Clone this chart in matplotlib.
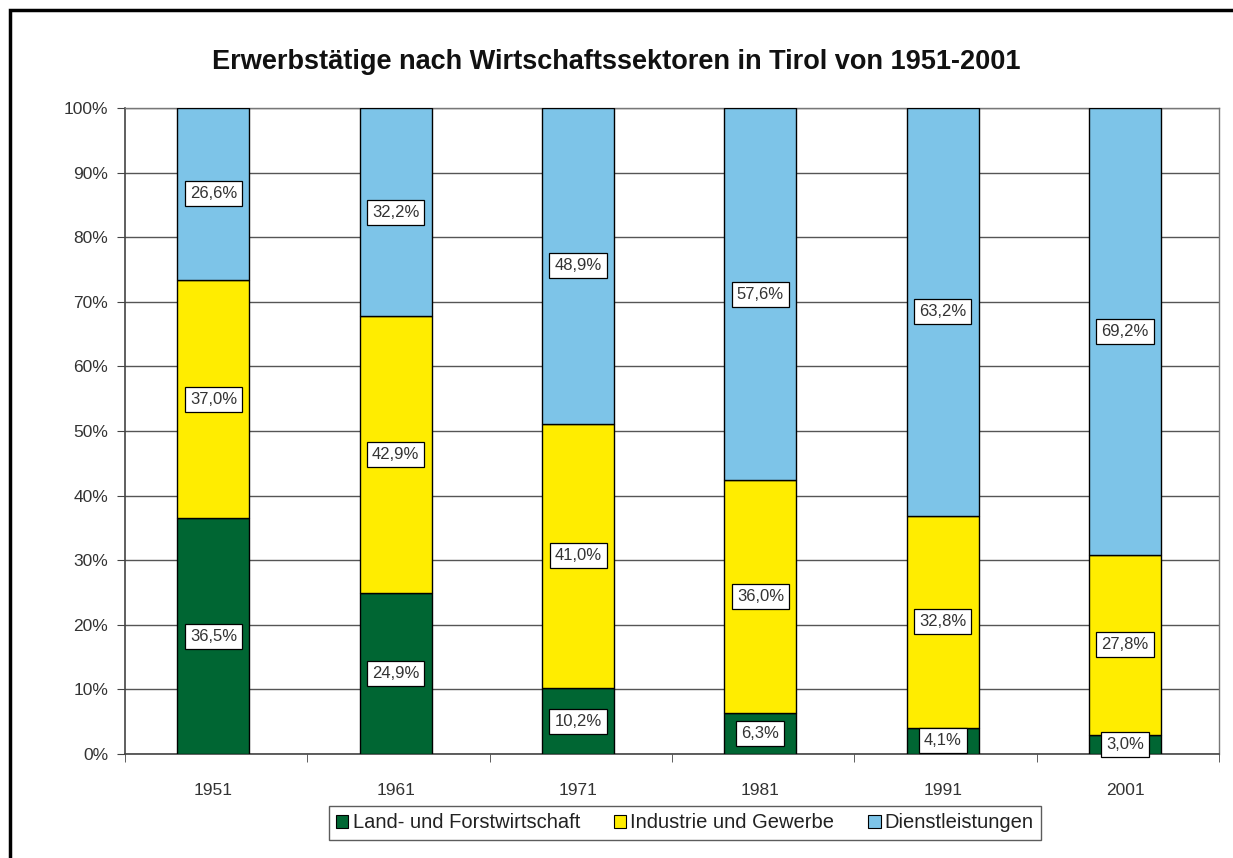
import matplotlib
matplotlib.use("Agg")
import matplotlib.pyplot as plt
from matplotlib.patches import Rectangle
import numpy as np

plt.rcParams['font.family'] = ['Liberation Sans', 'DejaVu Sans']

years = ["1951", "1961", "1971", "1981", "1991", "2001"]
land = [36.5, 24.9, 10.2, 6.3, 4.1, 3.0]
industrie = [37.0, 42.9, 41.0, 36.0, 32.8, 27.8]
dienst = [26.6, 32.2, 48.9, 57.6, 63.2, 69.2]
series_names = ["Land- und Forstwirtschaft", "Industrie und Gewerbe", "Dienstleistungen"]
colors = ["#006633", "#FFED00", "#7DC4E8"]
yticklabels = ["0%", "10%", "20%", "30%", "40%", "50%", "60%", "70%", "80%", "90%", "100%"]

fig = plt.figure(figsize=(12.33, 8.58), dpi=100)
fig.patches.append(Rectangle((10/1233, -0.1), 1.2, 1 - 10/858 + 0.1, transform=fig.transFigure,
                             fill=False, edgecolor="black", linewidth=2.5, zorder=0))
ax = fig.add_axes([125/1233, 1 - 754/858, (1219 - 125)/1233, (754 - 108)/858])

x = np.arange(len(years))
xc = x - 0.015
data = np.array([land, industrie, dienst])
totals = data.sum(axis=0)
norm = data / totals * 100
bottom = np.zeros(len(years))
for i in range(3):
    ax.bar(xc, norm[i], bottom=bottom, width=0.395, color=colors[i], edgecolor="black",
           linewidth=1.0, label=series_names[i], zorder=3)
    for j in range(len(years)):
        txt = f"{data[i][j]:.1f}%".replace(".", ",")
        ax.text(xc[j], bottom[j] + norm[i][j] / 2, txt, ha="center", va="center", fontsize=12,
                color="#333333", zorder=5,
                bbox=dict(boxstyle="square,pad=0.3", facecolor="white", edgecolor="black", linewidth=0.9))
    bottom += norm[i]

ax.set_xlim(-0.5, len(years) - 0.5)
ax.set_ylim(0, 100)
ax.set_yticks(np.arange(0, 101, 10))
ax.set_yticklabels(yticklabels, fontsize=12.5, color="#333333")
ax.set_xticks(xc)
ax.set_xticklabels(years, fontsize=12.5, color="#333333")
ax.set_xticks(np.arange(-0.5, len(years), 1), minor=True)
ax.tick_params(axis="x", which="major", length=0, pad=21)
ax.tick_params(axis="x", which="minor", length=6, direction="out", color="#444444")
ax.tick_params(axis="y", length=6, direction="out", color="#444444", pad=6)
ax.yaxis.grid(True, color="#555555", linewidth=1.0, zorder=0)
ax.set_axisbelow(True)
for s in ["left", "bottom"]:
    ax.spines[s].set_color("#444444")
    ax.spines[s].set_linewidth(1.2)
for s in ["right", "top"]:
    ax.spines[s].set_color("#777777")
    ax.spines[s].set_linewidth(1.0)

fig.text(0.5, 1 - 62/858, "Erwerbstätige nach Wirtschaftssektoren in Tirol von 1951-2001",
         ha="center", va="center", fontsize=19.5, fontweight="bold", color="#111111")

leg = fig.legend(loc="center", bbox_to_anchor=(685/1233, 1 - 823/858), ncol=3, fontsize=14.5,
                 frameon=True, fancybox=False, edgecolor="#333333", handlelength=0.6, handleheight=0.6,
                 handletextpad=0.2, columnspacing=1.7, borderpad=0.35, borderaxespad=0)
leg.get_frame().set_linewidth(1.0)
for h in leg.legend_handles:
    h.set_linewidth(0.8)
for t in leg.get_texts():
    t.set_color("#222222")

fig.savefig("out.png", dpi=100)
